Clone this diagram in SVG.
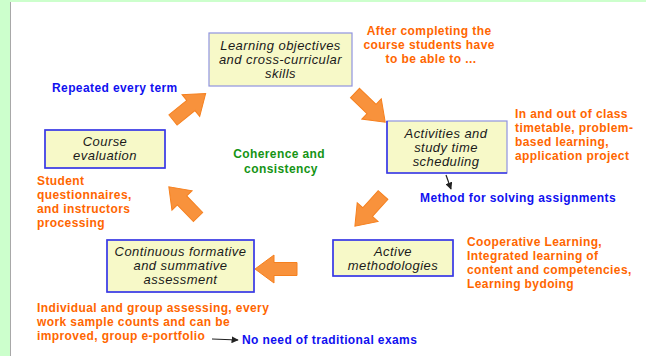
<svg xmlns="http://www.w3.org/2000/svg" width="646" height="356" viewBox="0 0 646 356">
  <defs>
    <style>
      .box { fill: #f7f9c8; stroke: #8f93e0; stroke-width: 1.2; }
      .edge { stroke: #3a3ae6; stroke-width: 1.6; fill: none; }
      .label { font-family: "Liberation Sans", Arial, sans-serif; font-style: italic; font-size: 13px; letter-spacing: 0.45px; fill: #1a1a1a; text-anchor: middle; }
      .note { font-family: "Liberation Sans", Arial, sans-serif; font-weight: bold; font-size: 12px; letter-spacing: 0.4px; }
      .orange { fill: #ff6600; }
      .blue { fill: #1010f0; }
      .green { fill: #159415; }
      .flow { fill: #f8923c; stroke: #f6801e; stroke-width: 1; }
      .thin { stroke: #222; stroke-width: 1.2; fill: none; }
    </style>
    <!-- block arrow pointing along +x, tail at origin -->
    <path id="block" d="M0,-6.5 L23,-6.5 L23,-14 L42,0 L23,14 L23,6.5 L0,6.5 Z"/>
    <marker id="tip" viewBox="0 0 10 10" refX="9" refY="5" markerWidth="6" markerHeight="6" orient="auto">
      <path d="M0,0 L10,5 L0,10 Z" fill="#222"/>
    </marker>
  </defs>

  <!-- page frame -->
  <rect x="0" y="0" width="646" height="356" fill="#ccffcc"/>
  <rect x="11" y="2" width="635" height="354" fill="#ffffff"/>
  <line x1="10.5" y1="2" x2="10.5" y2="356" stroke="#a8a8a8" stroke-width="1"/>

  <!-- connectors -->
  <g id="connectors">
    <use href="#block" class="flow" transform="translate(173,120) rotate(-39)"/>
    <use href="#block" class="flow" transform="translate(355,93) rotate(44)"/>
    <use href="#block" class="flow" transform="translate(383,195) rotate(132)"/>
    <use href="#block" class="flow" transform="translate(297,269) rotate(180)"/>
    <use href="#block" class="flow" transform="translate(198,217) rotate(-134)"/>
    <line class="thin" x1="446" y1="175" x2="451" y2="189" marker-end="url(#tip)"/>
    <line class="thin" x1="212" y1="339" x2="238" y2="340" marker-end="url(#tip)"/>
  </g>

  <g id="objectives">
    <rect class="box" x="209" y="33" width="143" height="53"/>
    <text class="label" x="280.5" y="50">Learning objectives</text>
    <text class="label" x="280.5" y="64">and cross-curricular</text>
    <text class="label" x="280.5" y="78">skills</text>
  </g>

  <g id="activities">
    <rect class="box" x="387" y="121" width="120" height="52"/>
    <path class="edge" d="M387,121 V173 H507"/>
    <text class="label" x="446" y="138">Activities and</text>
    <text class="label" x="446" y="152">study time</text>
    <text class="label" x="446" y="166">scheduling</text>
  </g>

  <g id="evaluation">
    <rect class="box" x="45" y="130" width="120" height="38"/>
    <rect class="edge" x="45" y="130" width="120" height="38"/>
    <text class="label" x="105" y="146">Course</text>
    <text class="label" x="105" y="160">evaluation</text>
  </g>

  <g id="methodologies">
    <rect class="box" x="333" y="240" width="120" height="36"/>
    <rect class="edge" x="333" y="240" width="120" height="36"/>
    <text class="label" x="393" y="256">Active</text>
    <text class="label" x="393" y="270">methodologies</text>
  </g>

  <g id="assessment">
    <rect class="box" x="107" y="240" width="147" height="52"/>
    <rect class="edge" x="107" y="240" width="147" height="52"/>
    <text class="label" x="180.5" y="256">Continuous formative</text>
    <text class="label" x="180.5" y="270">and summative</text>
    <text class="label" x="180.5" y="284">assessment</text>
  </g>

  <!-- annotations -->
  <g id="notes">
    <text class="note orange" text-anchor="middle">
      <tspan x="431" y="35">After completing the</tspan>
      <tspan x="431" y="49">course students have</tspan>
      <tspan x="431" y="63">to be able to ...</tspan>
    </text>
    <text class="note blue" x="52" y="92">Repeated every term</text>
    <text class="note green" text-anchor="middle">
      <tspan x="281" y="158">Coherence and</tspan>
      <tspan x="281" y="173">consistency</tspan>
    </text>
    <text class="note orange">
      <tspan x="515" y="118">In and out of class</tspan>
      <tspan x="515" y="132">timetable, problem-</tspan>
      <tspan x="515" y="146">based learning,</tspan>
      <tspan x="515" y="160">application project</tspan>
    </text>
    <text class="note blue" x="420" y="202">Method for solving assignments</text>
    <text class="note orange">
      <tspan x="37" y="185">Student</tspan>
      <tspan x="37" y="199">questionnaires,</tspan>
      <tspan x="37" y="213"> and instructors</tspan>
      <tspan x="37" y="227">processing</tspan>
    </text>
    <text class="note orange">
      <tspan x="467" y="246">Cooperative Learning,</tspan>
      <tspan x="467" y="260">Integrated  learning of</tspan>
      <tspan x="467" y="274">content and competencies,</tspan>
      <tspan x="467" y="288">Learning  bydoing</tspan>
    </text>
    <text class="note orange">
      <tspan x="37" y="312">Individual and group assessing, every</tspan>
      <tspan x="37" y="326">work sample counts and can be</tspan>
      <tspan x="37" y="340">improved, group e-portfolio</tspan>
    </text>
    <text class="note blue" x="242" y="344">No need of traditional exams</text>
  </g>
</svg>
